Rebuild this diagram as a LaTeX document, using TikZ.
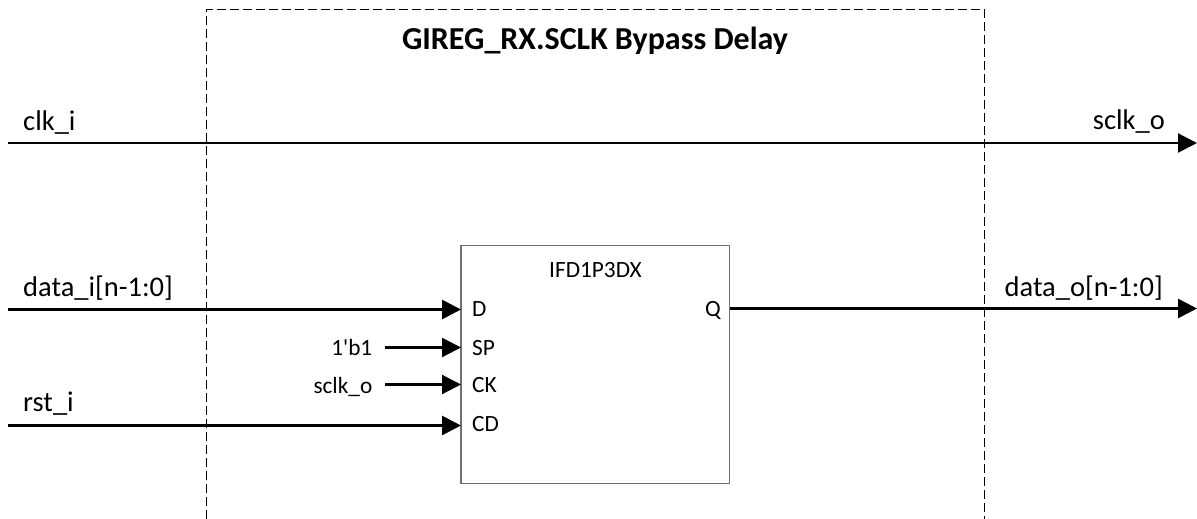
\documentclass[tikz,border=0pt]{standalone}
\usepackage{fontspec}
\setmainfont{Carlito}
\usetikzlibrary{arrows.meta}
\definecolor{boxgray}{HTML}{707070}
\tikzset{
  x=1pt,y=-1pt,
  sig/.style={line width=2.8pt,-{Triangle[length=19pt,width=19pt]}},
  thinsig/.style={line width=2.2pt,-{Triangle[length=19pt,width=19pt]}},
  lab/.style={font=\fontsize{28.5}{30}\selectfont,inner sep=0pt,text=black},
  pin/.style={font=\fontsize{23.3}{25}\selectfont,inner sep=0pt,text=black},
  frameline/.style={line width=0.9pt,dash pattern=on 9pt off 4pt,draw=black},
  block/.style={draw=boxgray,line width=1.2pt,fill=white,inner sep=0pt}
}
\begin{document}
\begin{tikzpicture}
\useasboundingbox (0,0) rectangle (1197,519);
% frame
\coordinate (fbl) at (206,519);
\coordinate (ftl) at (206,9.5);
\coordinate (ftr) at (984,9.5);
\coordinate (fbr) at (984,519);
\draw[frameline] (fbl) -- (ftl) -- (ftr) -- (fbr);
\node[font=\fontsize{32}{34}\selectfont\bfseries,inner sep=0pt,anchor=base] (title) at (595,50) {GIREG\_RX.SCLK Bypass Delay};
% block
\node[block,minimum width=268.5pt,minimum height=237.5pt] (ff) at (595.25,364.5) {};
\node[pin,anchor=base] (ffname) at (595.5,277.7) {IFD1P3DX};
\node[pin,anchor=base west] (pd) at (472,316) {D};
\node[pin,anchor=base west] (psp) at (472,355) {SP};
\node[pin,anchor=base west] (pck) at (472,392.7) {CK};
\node[pin,anchor=base west] (pcd) at (472,431.7) {CD};
\node[pin,anchor=base east] (pq) at (721,316) {Q};
\coordinate (dpin) at (461,309.5);
\coordinate (sppin) at (461,347.5);
\coordinate (ckpin) at (461,384.5);
\coordinate (cdpin) at (461,425.5);
\coordinate (qpin) at (730,308.5);
% free ends
\coordinate (clkin) at (8,143);
\coordinate (clkout) at (1197,143);
\coordinate (dout) at (1197,308.5);
\coordinate (din) at (8,309.5);
\coordinate (rin) at (8,425.5);
\coordinate (spin) at (385,347.5);
\coordinate (ckin) at (385,384.5);
% connectors
\draw[thinsig] (clkin) -- (clkout);
\draw[sig] (din) -- (dpin);
\draw[sig] (rin) -- (cdpin);
\draw[thinsig] (spin) -- (sppin);
\draw[thinsig] (ckin) -- (ckpin);
\draw[sig] (qpin) -- (dout);
% labels
\node[lab,anchor=base west] (l1) at (23,130.7) {clk\_i};
\node[lab,anchor=base east] (l2) at (1165,129.3) {sclk\_o};
\node[lab,anchor=base west] (l3) at (23,296.7) {data\_i[n-1:0]};
\node[lab,anchor=base east] (l4) at (1163,296) {data\_o[n-1:0]};
\node[lab,anchor=base west] (l5) at (23,411.7) {rst\_i};
\node[pin,anchor=base east] (l6) at (372.5,355) {1\XeTeXglyph\XeTeXcharglyph"27 b1};
\node[pin,anchor=base east] (l7) at (372.5,393) {sclk\_o};
\end{tikzpicture}
\end{document}
